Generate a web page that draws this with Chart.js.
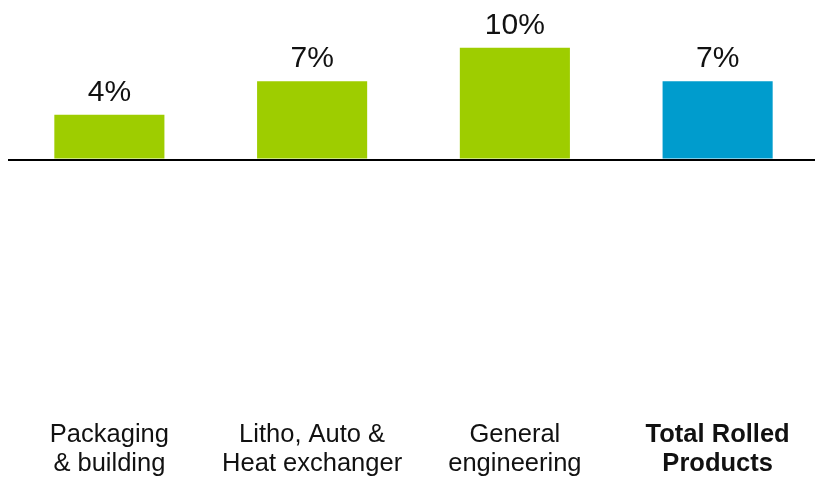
<!DOCTYPE html>
<html lang="en">
<head>
<meta charset="UTF-8">
<title>Rolled Products</title>
<script src="https://cdn.jsdelivr.net/npm/chart.js"></script>
<style>
  html, body { margin: 0; padding: 0; overflow: hidden; background: #fff; }
  .wrap { position: absolute; left: 0; top: 0; width: 821px; height: 498px; }
</style>
</head>
<body>
<div class="wrap">
  <canvas id="grafico"></canvas>
</div>

<script>
// categorias e valores (%)
const categorias = [
  ['Packaging', '& building'],
  ['Litho, Auto &', 'Heat exchanger'],
  ['General', 'engineering'],
  ['Total Rolled', 'Products']
];
const valores = [4, 7, 10, 7];
const cores = ['#9ecd00', '#9ecd00', '#9ecd00', '#009ccd'];

const fonte = '"Liberation Sans", Arial, sans-serif';

// escreve o valor em cima de cada barra
const rotulos = {
  id: 'rotulos',
  afterDatasetsDraw(chart) {
    const ctx = chart.ctx;
    const meta = chart.getDatasetMeta(0);
    ctx.save();
    ctx.font = '30px ' + fonte;
    ctx.fillStyle = '#111';
    ctx.textAlign = 'center';
    ctx.textBaseline = 'alphabetic';
    meta.data.forEach(function (barra, i) {
      ctx.fillText(valores[i] + '%', barra.x, barra.y - 14);
    });
    ctx.restore();
  }
};

new Chart(document.getElementById('grafico'), {
  type: 'bar',
  data: {
    labels: categorias,
    datasets: [{
      data: valores,
      backgroundColor: cores,
      borderWidth: 0,
      categoryPercentage: 1,
      barPercentage: 0.543
    }]
  },
  options: {
    responsive: true,
    maintainAspectRatio: false,
    animation: false,
    layout: { padding: { left: 8, right: 2, top: 3, bottom: 6 } },
    plugins: {
      legend: { display: false },
      tooltip: { enabled: false }
    },
    scales: {
      x: {
        grid: { display: false },
        border: { display: false },
        ticks: {
          padding: 14,
          color: '#111',
          maxRotation: 0,
          autoSkip: false,
          font: function (c) {
            return {
              family: fonte,
              size: 25.5,
              lineHeight: 1.12,
              weight: c.index === 3 ? 'bold' : 'normal'
            };
          }
        }
      },
      y: {
        min: -21.4,
        max: 14,
        afterBuildTicks: function (escala) {
          // só a linha do zero
          escala.ticks = [{ value: 0 }];
        },
        ticks: { display: false },
        border: { display: false },
        grid: {
          drawTicks: false,
          lineWidth: 2,
          color: '#000'
        }
      }
    }
  },
  plugins: [rotulos]
});
</script>
</body>
</html>
